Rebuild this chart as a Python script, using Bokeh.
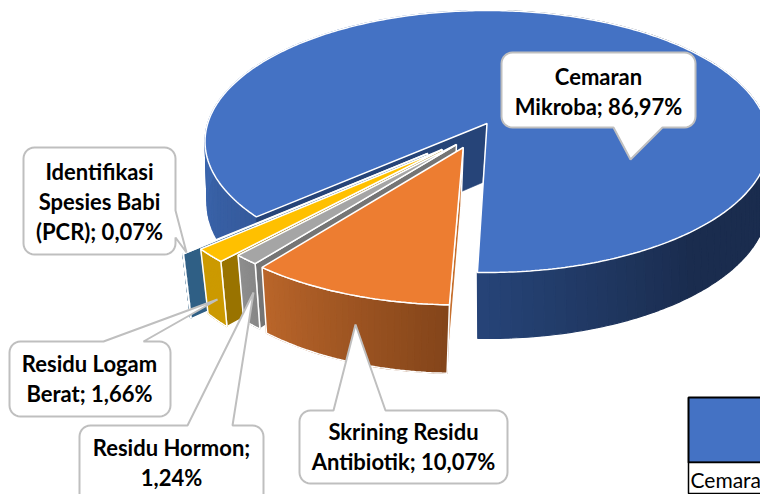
import numpy as np
from bokeh.embed import file_html
from bokeh.resources import INLINE
from bokeh.plotting import figure
from bokeh.core.properties import value

categories = ["Cemaran Mikroba", "Skrining Residu Antibiotik", "Residu Hormon", "Residu Logam Berat", "Identifikasi Spesies Babi (PCR)"]
values = [86.97, 10.07, 1.24, 1.66, 0.07]
label_lines = [["Cemaran", "Mikroba; 86,97%"], ["Skrining Residu", "Antibiotik; 10,07%"], ["Residu Hormon;", "1,24%"],
               ["Residu Logam", "Berat; 1,66%"], ["Identifikasi", "Spesies Babi", "(PCR); 0,07%"]]
top_colors = ["#4472C4", "#ED7D31", "#A5A5A5", "#FFC000", "#255E91"]
wall_colors = ["#264478", "#C66F2D", "#757575", "#997300", "#2F5F85"]
outer_left = ["#3B66AE", "#B9652A", "#8E8E8E", "#CC9A00", "#2F5F85"]
outer_right = ["#355A9C", "#84451A", "#878787", "#CC9A00", "#2F5F85"]
explode = [(0, 0), (-0.083, 0.182), (-0.107, 0.16), (-0.156, 0.197), (-0.206, 0.226)]
start_angle = 91.7
bottom_k = [277.0, 264.0, 264.0, 264.0, 264.0]
bottom_cx = [487.0, 483.0, 483.0, 483.0, 483.0]

# callouts: box (x0, y0, x1, y1), pointer (base A, tip, base B), text centre x, first line y, line gap
callouts = [
    dict(box=(501, 52, 695, 127), ptr=[(613, 127), (630, 159), (662, 127)], tx=598, ty=76, dy=29.5),
    dict(box=(299, 410, 507, 483), ptr=[(333, 410), (355, 324), (385, 410)], tx=403, ty=431, dy=29.5),
    dict(box=(79, 425, 263, 505), ptr=[(187, 425), (253, 292), (232, 425)], tx=171, ty=447, dy=29.5),
    dict(box=(9, 341, 170, 416), ptr=[(103, 341), (217, 299), (143, 341)], tx=89, ty=363, dy=29.5),
    dict(box=(23, 147, 175, 254), ptr=[(175, 210), (186, 252), (175, 237)], tx=99, ty=171, dy=29.8),
]

CX, TOP_CY, TOP_B, TOP_OFF, TOP_K = 486.5, 141.0, 131.0, 18.0, 279.3
BOT_CY, BOT_B, BOT_OFF = 203.0, 135.0, 21.0


def project(x, y, z, i=0):
    x, y = np.asarray(x, float), np.asarray(y, float)
    if z == 0:
        c = TOP_OFF / TOP_B
        d = 1 - c * y
        return CX + TOP_K * x / d, TOP_CY + (TOP_B * y - TOP_OFF) / d
    c = BOT_OFF / BOT_B
    d = 1 - c * y
    return bottom_cx[i] + bottom_k[i] * x / d, BOT_CY + (BOT_B * y - BOT_OFF) / d


def rim(a0, a1, i, z, n=40):
    t = np.radians(np.linspace(a0, a1, n))
    ex, ey = explode[i]
    return project(np.cos(t) + ex, np.sin(t) + ey, z, i)


def hub(i, z):
    ex, ey = explode[i]
    px, py = project([ex], [ey], z, i)
    return float(px[0]), float(py[0])


def lerp_color(c0, c1, f):
    a = [int(c0[k:k + 2], 16) for k in (1, 3, 5)]
    b = [int(c1[k:k + 2], 16) for k in (1, 3, 5)]
    return "#%02x%02x%02x" % tuple(int(round(u + (v - u) * f)) for u, v in zip(a, b))


p = figure(width=760, height=494, x_range=(0, 760), y_range=(494, 0), output_backend="svg",
           toolbar_location=None, x_axis_type=None, y_axis_type=None, min_border=0,
           background_fill_color="white", border_fill_color="white", outline_line_color=None)
p.grid.visible = False

total = sum(values)
spans = [v / total * 360 for v in values]
ranges = []
a = start_angle + 360 - spans[0]
ranges.append((a, a + spans[0]))
a = start_angle
for s in spans[1:]:
    ranges.append((a, a + s))
    a += s
LW = 1.5

# Blue slice
a0, a1 = ranges[0]
edges = np.linspace(a0, a1, 161)
xs, ys, cs = [], [], []
for u, v in zip(edges[:-1], edges[1:]):
    tx, ty = rim(u, v, 0, 0, 3)
    bx, by = rim(u, v, 0, 1, 3)
    xs.append(list(tx) + list(bx[::-1]))
    ys.append(list(ty) + list(by[::-1]))
    m = (u + v) / 2
    if m < 270:
        cs.append(lerp_color(outer_right[0], outer_left[0], min(1, (m - a0) / 40)))
    else:
        f = max(0, min(1, (m - 360 - 50) / (a1 - 360 - 50)))
        cs.append(lerp_color("#1A2C4E", wall_colors[0], f))
p.patches(xs, ys, fill_color=cs, line_color=cs, line_width=1.2)
# blue's cut wall facing the gap
hx, hy = hub(0, 0)
bhx, bhy = hub(0, 1)
tx, ty = rim(a0, a0, 0, 0, 1)
bx, by = rim(a0, a0, 0, 1, 1)
p.patch([hx, tx[0], bx[0], bhx - 5], [hy, ty[0], by[0], bhy], fill_color=wall_colors[0], line_color=wall_colors[0], line_width=0.6)
tx, ty = rim(a0, a1, 0, 0, 400)
p.patch([hx] + list(tx), [hy] + list(ty), fill_color=top_colors[0], line_color="white", line_width=LW)

# Exploded slices, back to front
for i in [4, 3, 2, 1]:
    u0, u1 = ranges[i]
    hx, hy = hub(i, 0)
    bhx, bhy = hub(i, 1)
    tx, ty = rim(u0, u0, i, 0, 1)
    bx, by = rim(u0, u0, i, 1, 1)
    p.patch([hx, tx[0], bx[0], bhx], [hy, ty[0], by[0], bhy], fill_color=wall_colors[i], line_color="white", line_width=LW)
    edges = np.linspace(u0, u1, 31)
    xs, ys, cs = [], [], []
    for k, (u, v) in enumerate(zip(edges[:-1], edges[1:])):
        ax, ay = rim(u, v, i, 0, 2)
        cx, cy = rim(u, v, i, 1, 2)
        xs.append(list(ax) + list(cx[::-1]))
        ys.append(list(ay) + list(cy[::-1]))
        cs.append(lerp_color(outer_right[i], outer_left[i], k / 29))
    p.patches(xs, ys, fill_color=cs, line_color=cs, line_width=1.2)
    ax, ay = rim(u0, u1, i, 0, 40)
    cx, cy = rim(u0, u1, i, 1, 40)
    p.patch(list(ax) + list(cx[::-1]), list(ay) + list(cy[::-1]), fill_alpha=0, line_color="white", line_width=LW)
    p.patch([hx] + list(ax), [hy] + list(ay), fill_color=top_colors[i], line_color="white", line_width=LW)


def callout_path(box, ptr, r=11):
    x0, y0, x1, y1 = box
    pts = []
    def corner(cx, cy, a0, a1):
        t = np.radians(np.linspace(a0, a1, 8))
        pts.extend(zip(cx + r * np.cos(t), cy + r * np.sin(t)))
    corner(x0 + r, y0 + r, 180, 270)
    if ptr[0][1] == y0:
        pts.extend(ptr)
    corner(x1 - r, y0 + r, 270, 360)
    if ptr[0][0] == x1:
        pts.extend(ptr)
    corner(x1 - r, y1 - r, 0, 90)
    if ptr[0][1] == y1:
        pts.extend(ptr[::-1])
    corner(x0 + r, y1 - r, 90, 180)
    return [q[0] for q in pts], [q[1] for q in pts]


for c, lines in zip(callouts, label_lines):
    px, py = callout_path(c["box"], c["ptr"])
    p.patch(px, py, fill_color="white", line_color="#BFBFBF", line_width=2)
    ly = [c["ty"] + k * c["dy"] for k in range(len(lines))]
    p.text([c["tx"]] * len(lines), ly, text=lines, text_font=value("Lato"), text_font_style="bold",
           text_font_size="22px", text_color="black", text_align="center", text_baseline="middle")

# data-table fragment at the lower right
p.quad(left=[688], right=[780], top=[397], bottom=[462], fill_color="#4472C4", line_color="black", line_width=2)
p.quad(left=[688], right=[780], top=[462], bottom=[493], fill_color="white", line_color="black", line_width=1.5)
p.text([690], [479], text=["Cemara"], text_font=value("Lato"), text_font_size="21px", text_color="black",
       text_align="left", text_baseline="middle")

open("out.html", "w").write(file_html(p, INLINE))
